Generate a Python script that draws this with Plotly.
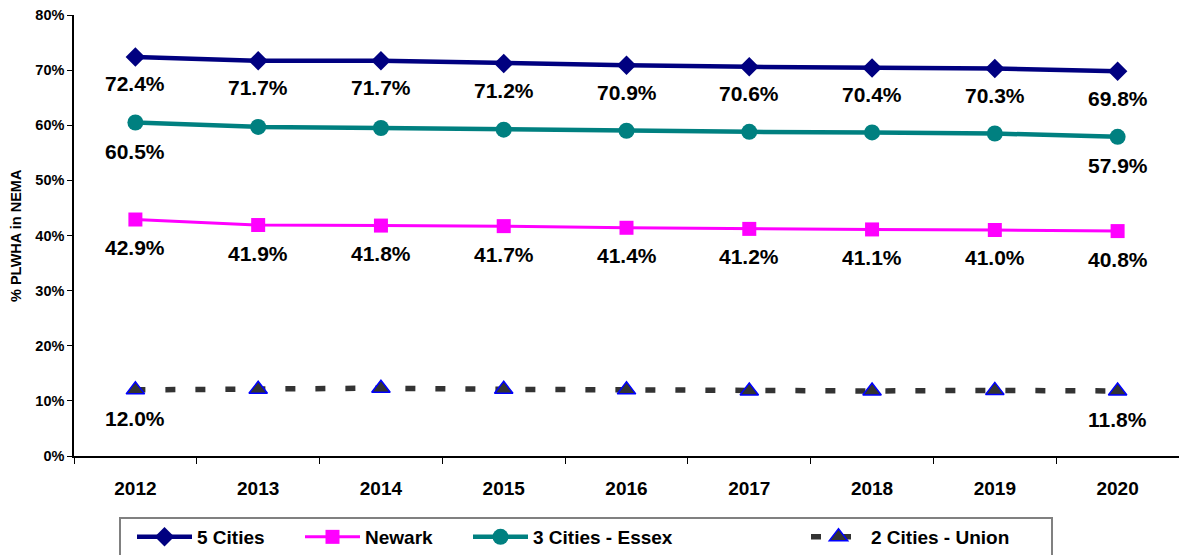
import plotly.graph_objects as go

years = ["2012", "2013", "2014", "2015", "2016", "2017", "2018", "2019", "2020"]
five_cities = [72.4, 71.7, 71.7, 71.2, 70.9, 70.6, 70.4, 70.3, 69.8]
newark = [42.9, 41.9, 41.8, 41.7, 41.4, 41.2, 41.1, 41.0, 40.8]
essex = [60.5, 59.7, 59.5, 59.2, 59.0, 58.8, 58.7, 58.5, 57.9]
union = [12.0, 12.1, 12.3, 12.1, 12.0, 11.8, 11.8, 11.9, 11.8]
essex_labeled = [0, 8]
union_labeled = [0, 8]
y_ticks = [0, 10, 20, 30, 40, 50, 60, 70, 80]
grid_lines = [10, 20, 30, 40, 50, 60, 70]

FONT = "Liberation Sans, Arial, sans-serif"
W, H = 1179, 555
L, R, T, B = 74, 0, 15, 99
PW = W - L - R
PH = H - T - B

def px_x(p):
    return (p - L) / PW

def px_y(p):
    return (H - B - p) / PH

fig = go.Figure()
fig.add_trace(go.Scatter(x=years, y=[v / 100 for v in five_cities], name="<b>5 Cities</b>",
                         mode="lines+markers", line=dict(color="#000080", width=4.5),
                         marker=dict(symbol="diamond", size=15, color="#000080"),
                         legend="legend"))
fig.add_trace(go.Scatter(x=years, y=[v / 100 for v in newark], name="<b>Newark</b>",
                         mode="lines+markers", line=dict(color="#FF00FF", width=3),
                         marker=dict(symbol="square", size=14, color="#FF00FF"),
                         legend="legend2"))
fig.add_trace(go.Scatter(x=years, y=[v / 100 for v in essex], name="<b>3 Cities - Essex</b>",
                         mode="lines+markers", line=dict(color="#008080", width=4.5),
                         marker=dict(symbol="circle", size=16, color="#008080"),
                         legend="legend3"))
fig.add_trace(go.Scatter(x=years, y=[v / 100 for v in union], name="<b>2 Cities - Union</b>",
                         mode="lines+markers", line=dict(color="#333333", width=5.5, dash="10px,20px"),
                         marker=dict(symbol="triangle-up", size=16, color="#333333",
                                     line=dict(color="#0000FF", width=1.5)),
                         legend="legend4"))

annotations = []
def add_labels(vals, idxs, shift):
    for i in idxs:
        annotations.append(dict(x=i, y=vals[i] / 100, text=f"<b>{vals[i]:.1f}%</b>",
                                showarrow=False, yshift=shift, xref="x", yref="y",
                                font=dict(family=FONT, size=21, color="black")))

add_labels(five_cities, range(9), -27)
add_labels(newark, range(9), -28)
add_labels(essex, essex_labeled, -29)
add_labels(union, union_labeled, -29)

annotations.append(dict(text="<b>% PLWHA in NEMA</b>", textangle=-90, showarrow=False,
                        xref="paper", yref="paper", x=px_x(16), y=px_y(236),
                        xanchor="center", yanchor="middle",
                        font=dict(family=FONT, size=14.5, color="black")))

for g in grid_lines:
    fig.add_hline(y=g / 100, line=dict(color="black", width=1), layer="below")

legend_base = dict(orientation="h", yanchor="top", y=px_y(518), xanchor="left",
                   bgcolor="rgba(0,0,0,0)", borderwidth=0,
                   font=dict(size=19, family=FONT, color="black"), itemwidth=55)
leg_x = [137, 305, 473, 811]

fig.update_layout(
    width=W, height=H,
    margin=dict(l=L, r=R, t=T, b=B, autoexpand=False),
    plot_bgcolor="white", paper_bgcolor="white",
    font=dict(family=FONT, color="black"),
    showlegend=True,
    legend=dict(legend_base, x=px_x(leg_x[0] - 5)),
    legend2=dict(legend_base, x=px_x(leg_x[1] - 5)),
    legend3=dict(legend_base, x=px_x(leg_x[2] - 5)),
    legend4=dict(legend_base, x=px_x(leg_x[3] - 5)),
    annotations=annotations,
    shapes=[dict(type="rect", xref="paper", yref="paper",
                 x0=px_x(120), x1=px_x(1052), y0=px_y(518), y1=px_y(560),
                 line=dict(color="#808080", width=1.5), fillcolor="rgba(0,0,0,0)")],
)
fig.update_xaxes(type="category", range=[-0.5, 8.5], showgrid=False, showline=True,
                 linecolor="black", linewidth=1.5, ticks="outside", tickson="boundaries",
                 ticklen=6, tickcolor="black", automargin=False,
                 tickfont=dict(size=19, family=FONT), ticklabelstandoff=14,
                 tickprefix="<b>", ticksuffix="</b>")
fig.update_yaxes(range=[0, 0.8], tickvals=[t / 100 for t in y_ticks],
                 ticktext=[f"<b>{t}%</b>" for t in y_ticks],
                 showgrid=False, zeroline=False, automargin=False,
                 showline=True, linecolor="black", linewidth=1.5, ticks="outside",
                 ticklen=5, tickcolor="black", tickfont=dict(size=14.5, family=FONT))

fig.write_html("out.html", config={"displayModeBar": False},
               post_script="document.body.style.margin='0';document.body.style.overflow='hidden';")
